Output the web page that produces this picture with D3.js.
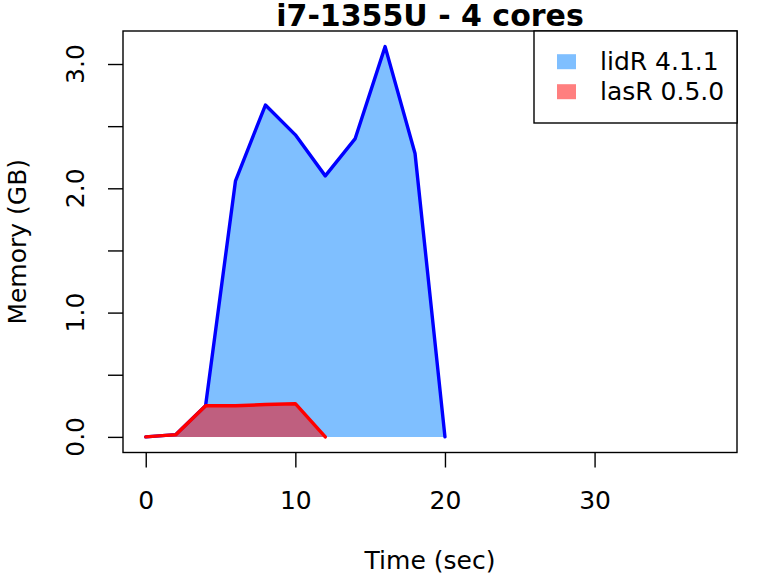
<!DOCTYPE html>
<html><head><meta charset="utf-8">
<script src="https://cdn.jsdelivr.net/npm/d3@7"></script>
<style>body{margin:0;background:#fff}svg{display:block}text{font-family:"DejaVu Sans",sans-serif}</style>
</head><body>
<svg id="c" width="768" height="576"></svg>
<script>
const timeSec = [0, 2, 4, 6, 8, 10, 12, 14, 16, 18, 20];
const lidR = [0, 0.018, 0.25, 2.06, 2.67, 2.43, 2.10, 2.40, 3.14, 2.28, 0];
const lasRTime = [0, 2, 4, 6, 8, 10, 12];
const lasR = [0, 0.018, 0.25, 0.25, 0.26, 0.267, 0];
const xTicks = [0, 10, 20, 30];
const yTicks = [0, 0.5, 1, 1.5, 2, 2.5, 3];
const yLabels = [0, 1, 2, 3];
const seriesNames = ["lidR 4.1.1", "lasR 0.5.0"];

const svg = d3.select("#c");
const L = 123, R = 737, T = 31, B = 452.5;
const x = d3.scaleLinear().domain([-1.52, 39.52]).range([L, R]);
const y = d3.scaleLinear().domain([-0.1256, 3.2656]).range([B, T]);

const area = d3.area().x(d => x(d[0])).y0(y(0)).y1(d => y(d[1]));
const line = d3.line().x(d => x(d[0])).y(d => y(d[1]));
const dA = timeSec.map((t, i) => [t, lidR[i]]);
const dB = lasRTime.map((t, i) => [t, lasR[i]]);

svg.append("path").attr("d", area(dA)).attr("fill", "rgba(0,127,255,0.5)");
svg.append("path").attr("d", line(dA)).attr("fill", "none").attr("stroke", "#0000ff").attr("stroke-width", 3.4).attr("stroke-linejoin", "round").attr("stroke-linecap", "round");
svg.append("path").attr("d", area(dB)).attr("fill", "rgba(255,0,0,0.5)");
svg.append("path").attr("d", line(dB)).attr("fill", "none").attr("stroke", "#ff0000").attr("stroke-width", 3.4).attr("stroke-linejoin", "round").attr("stroke-linecap", "round");

// box
svg.append("rect").attr("x", L).attr("y", T).attr("width", R - L).attr("height", B - T).attr("fill", "none").attr("stroke", "#000").attr("stroke-width", 1.4);

// x axis
const xa = svg.append("g").attr("transform", `translate(0,${B})`)
  .call(d3.axisBottom(x).tickValues(xTicks).tickSize(15).tickPadding(0).tickFormat(d3.format("d")));
xa.select(".domain").remove();
xa.selectAll(".tick line").attr("stroke-width", 1.4);
xa.selectAll("text").attr("font-size", 25).attr("font-family", "DejaVu Sans").attr("fill", "#000").attr("dy", "0").attr("y", 56);

// y axis
const ya = svg.append("g").attr("transform", `translate(${L},0)`)
  .call(d3.axisLeft(y).tickValues(yTicks).tickSize(15).tickFormat(""));
ya.select(".domain").remove();
ya.selectAll(".tick line").attr("stroke-width", 1.4);
yLabels.forEach(v => {
  svg.append("text").attr("transform", `translate(83.5,${y(v)}) rotate(-90)`)
    .attr("text-anchor", "middle").attr("font-size", 25).attr("fill", "#000")
    .text(d3.format(".1f")(v));
});

// titles
svg.append("text").attr("x", (L + R) / 2).attr("y", 26).attr("text-anchor", "middle")
  .attr("font-size", 30).attr("font-weight", "bold").text("i7-1355U - 4 cores");
svg.append("text").attr("x", (L + R) / 2).attr("y", 569).attr("text-anchor", "middle")
  .attr("font-size", 25).text("Time (sec)");
svg.append("text").attr("transform", `translate(25.5,${(T + B) / 2}) rotate(-90)`).attr("text-anchor", "middle")
  .attr("font-size", 25).text("Memory (GB)");

// legend
const lg = svg.append("g");
lg.append("rect").attr("x", 534).attr("y", T).attr("width", R - 534).attr("height", 92).attr("fill", "#fff").attr("stroke", "#000").attr("stroke-width", 1.4);
const lcol = ["rgba(0,127,255,0.5)", "rgba(255,0,0,0.5)"];
seriesNames.forEach((n, i) => {
  const cy = 61.7 + i * 30;
  lg.append("rect").attr("x", 557).attr("y", cy - 7.5).attr("width", 19).attr("height", 15).attr("fill", lcol[i]);
  lg.append("text").attr("x", 600).attr("y", cy + 8.5).attr("font-size", 25).text(n);
});
</script>
</body></html>
